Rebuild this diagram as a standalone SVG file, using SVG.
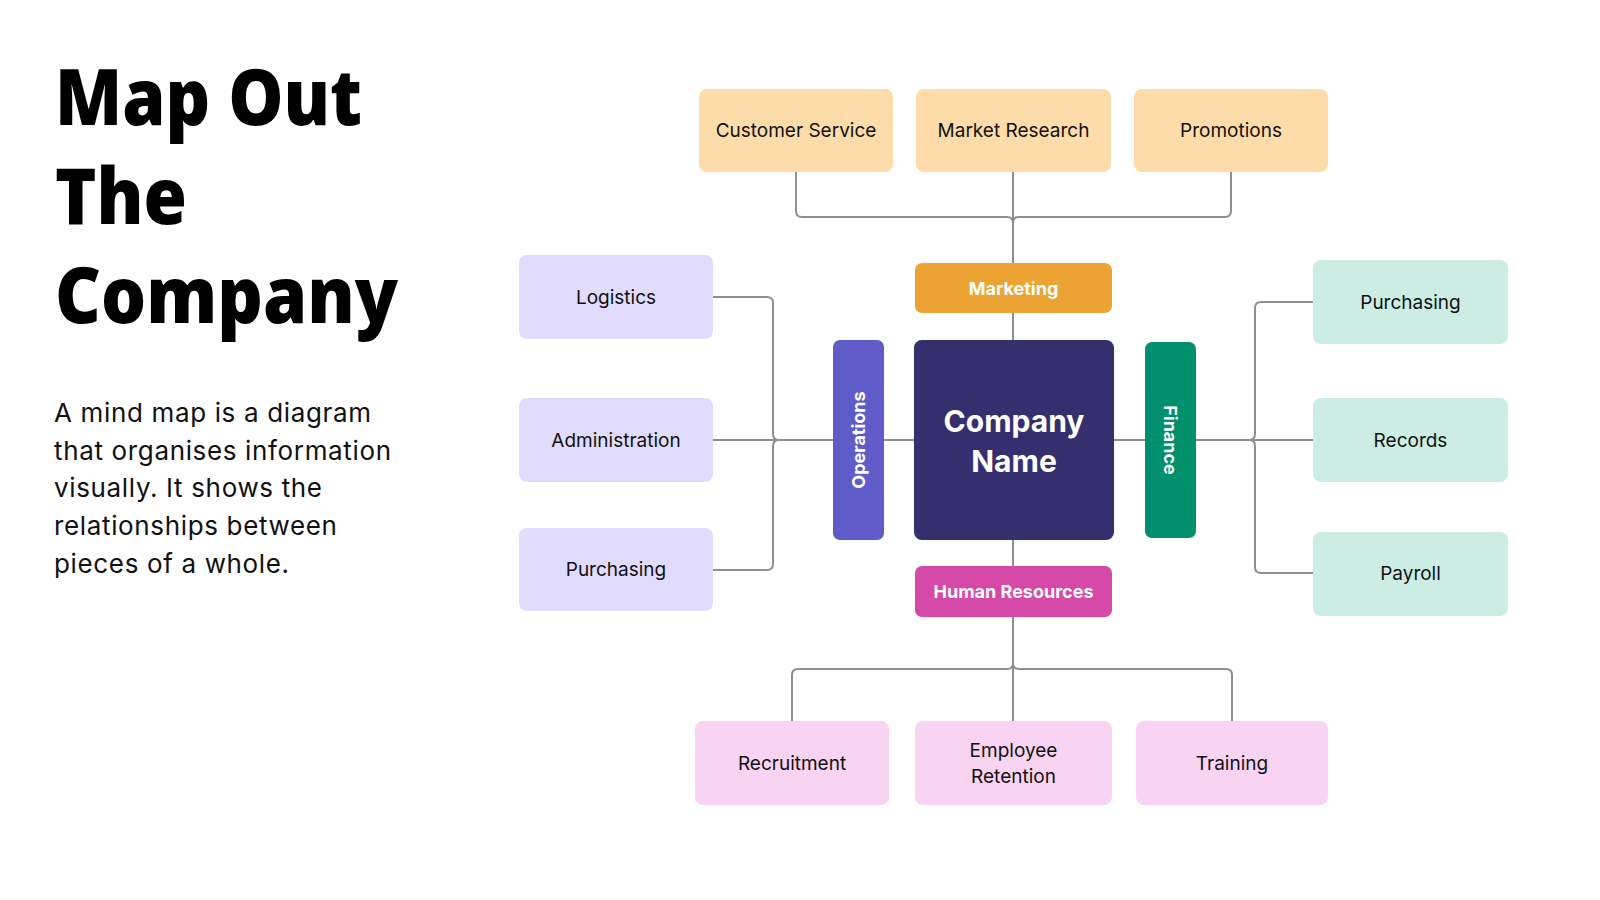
<svg xmlns="http://www.w3.org/2000/svg" width="1600" height="900" viewBox="0 0 1600 900">
<style>
.title{font-family:"Open Sans","Liberation Sans",sans-serif;font-weight:800;font-size:78px;fill:#000}
.body{font-family:Inter,"Liberation Sans",sans-serif;font-size:26px;letter-spacing:0.65px;fill:#111}
.lbl{font-family:Inter,"Liberation Sans",sans-serif;font-size:19px;fill:#111;text-anchor:middle}
.wl{font-family:Inter,"Liberation Sans",sans-serif;font-weight:700;font-size:18px;fill:#fff;text-anchor:middle}
.big{font-family:Inter,"Liberation Sans",sans-serif;font-weight:700;font-size:30px;fill:#fff;text-anchor:middle}
.conn path{fill:none;stroke:#8f8f8f;stroke-width:2}
.orange{fill:#FDDCAA}.purple{fill:#E1DCFD}.mint{fill:#CCEDE4}.pink{fill:#F9D3F2}
</style>
<rect width="1600" height="900" fill="#fff"/>
<g id="title">
<text class="title" x="55" y="125" textLength="307" lengthAdjust="spacingAndGlyphs">Map Out</text>
<text class="title" x="55" y="224" textLength="132" lengthAdjust="spacingAndGlyphs">The</text>
<text class="title" x="55" y="323" textLength="343" lengthAdjust="spacingAndGlyphs">Company</text>
</g>
<g id="description" class="body">
<text x="54" y="422">A mind map is a diagram</text>
<text x="54" y="460">that organises information</text>
<text x="54" y="497">visually. It shows the</text>
<text x="54" y="535">relationships between</text>
<text x="54" y="573">pieces of a whole.</text>
</g>
<g id="connectors" class="conn">
<path d="M796 172 V211 Q796 217 802 217 H1007 Q1013 217 1013 223"/>
<path d="M1231 172 V211 Q1231 217 1225 217 H1019 Q1013 217 1013 223"/>
<path d="M1013 172 V263"/>
<path d="M1013 313 V341"/>
<path d="M713 297 H767 Q773 297 773 303 V434 Q773 440 779 440"/>
<path d="M713 570 H767 Q773 570 773 564 V446 Q773 440 779 440"/>
<path d="M713 440 H833"/>
<path d="M884 440 H914"/>
<path d="M1114 440 H1145"/>
<path d="M1196 440 H1313"/>
<path d="M1313 302 H1261 Q1255 302 1255 308 V434 Q1255 440 1249 440"/>
<path d="M1313 573 H1261 Q1255 573 1255 567 V446 Q1255 440 1249 440"/>
<path d="M1013 540 V566"/>
<path d="M1013 617 V721"/>
<path d="M792 721 V675 Q792 669 798 669 H1007 Q1013 669 1013 663"/>
<path d="M1232 721 V675 Q1232 669 1226 669 H1019 Q1013 669 1013 663"/>
</g>
<g id="customer-service"><rect class="orange" x="699" y="89" width="194" height="83" rx="8"/><text class="lbl" x="796" y="137">Customer Service</text></g>
<g id="market-research"><rect class="orange" x="916" y="89" width="195" height="83" rx="8"/><text class="lbl" x="1013.5" y="137">Market Research</text></g>
<g id="promotions"><rect class="orange" x="1134" y="89" width="194" height="83" rx="8"/><text class="lbl" x="1231" y="137">Promotions</text></g>
<g id="marketing"><rect x="915" y="263" width="197" height="50" rx="7" fill="#EBA434"/><text class="wl" x="1013.5" y="294.5">Marketing</text></g>
<g id="logistics"><rect class="purple" x="519" y="255" width="194" height="84" rx="8"/><text class="lbl" x="616" y="303.5">Logistics</text></g>
<g id="administration"><rect class="purple" x="519" y="398" width="194" height="84" rx="8"/><text class="lbl" x="616" y="446.5">Administration</text></g>
<g id="purchasing-ops"><rect class="purple" x="519" y="528" width="194" height="83" rx="8"/><text class="lbl" x="616" y="576">Purchasing</text></g>
<g id="operations"><rect x="833" y="340" width="51" height="200" rx="7" fill="#5F5BC9"/><text class="wl" transform="translate(864.5 440) rotate(-90)" x="0" y="0">Operations</text></g>
<g id="company-name"><rect x="914" y="340" width="200" height="200" rx="8" fill="#352F70"/><text class="big" x="1014" y="432">Company</text><text class="big" x="1014" y="472">Name</text></g>
<g id="finance"><rect x="1145" y="342" width="51" height="196" rx="7" fill="#00906D"/><text class="wl" transform="translate(1164 440) rotate(90)" x="0" y="0">Finance</text></g>
<g id="purchasing-fin"><rect class="mint" x="1313" y="260" width="195" height="84" rx="8"/><text class="lbl" x="1410.5" y="308.5">Purchasing</text></g>
<g id="records"><rect class="mint" x="1313" y="398" width="195" height="84" rx="8"/><text class="lbl" x="1410.5" y="446.5">Records</text></g>
<g id="payroll"><rect class="mint" x="1313" y="532" width="195" height="84" rx="8"/><text class="lbl" x="1410.5" y="580">Payroll</text></g>
<g id="human-resources"><rect x="915" y="566" width="197" height="51" rx="7" fill="#D749A9"/><text class="wl" x="1013.5" y="598">Human Resources</text></g>
<g id="recruitment"><rect class="pink" x="695" y="721" width="194" height="84" rx="8"/><text class="lbl" x="792" y="769.5">Recruitment</text></g>
<g id="employee-retention"><rect class="pink" x="915" y="721" width="197" height="84" rx="8"/><text class="lbl" x="1013.5" y="757">Employee</text><text class="lbl" x="1013.5" y="783">Retention</text></g>
<g id="training"><rect class="pink" x="1136" y="721" width="192" height="84" rx="8"/><text class="lbl" x="1232" y="769.5">Training</text></g>
</svg>
